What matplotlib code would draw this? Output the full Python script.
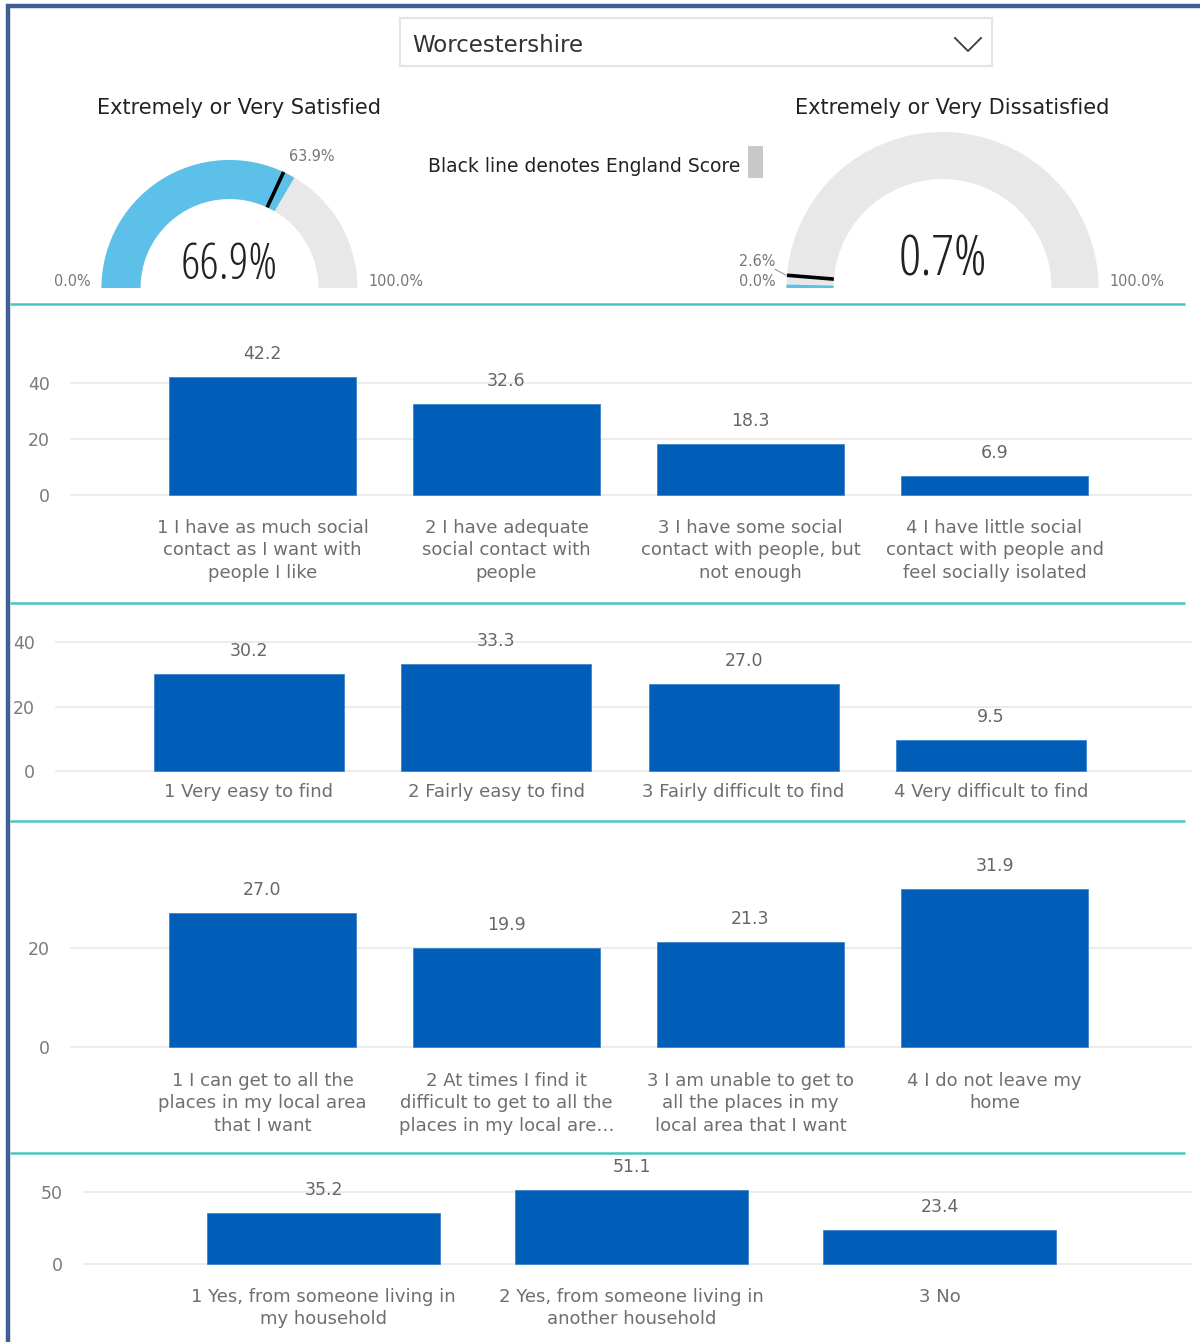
import matplotlib
matplotlib.use("Agg")
import matplotlib.pyplot as plt
from matplotlib.patches import Wedge, Rectangle
import numpy as np

# ---------------- data ----------------
area_name = "Worcestershire"
legend_text = "Black line denotes England Score"

gauge_titles = ["Extremely or Very Satisfied", "Extremely or Very Dissatisfied"]
gauge_values = [66.9, 0.7]
england_scores = [63.9, 2.6]
gauge_min = 0.0
gauge_max = 100.0

q1_labels = ["1 I have as much social\ncontact as I want with\npeople I like",
             "2 I have adequate\nsocial contact with\npeople",
             "3 I have some social\ncontact with people, but\nnot enough",
             "4 I have little social\ncontact with people and\nfeel socially isolated"]
q1_values = [42.2, 32.6, 18.3, 6.9]
q1_ticks = [0, 20, 40]

q2_labels = ["1 Very easy to find", "2 Fairly easy to find",
             "3 Fairly difficult to find", "4 Very difficult to find"]
q2_values = [30.2, 33.3, 27.0, 9.5]
q2_ticks = [0, 20, 40]

q3_labels = ["1 I can get to all the\nplaces in my local area\nthat I want",
             "2 At times I find it\ndifficult to get to all the\nplaces in my local are\u2026",
             "3 I am unable to get to\nall the places in my\nlocal area that I want",
             "4 I do not leave my\nhome"]
q3_values = [27.0, 19.9, 21.3, 31.9]
q3_ticks = [0, 20]

q4_labels = ["1 Yes, from someone living in\nmy household",
             "2 Yes, from someone living in\nanother household",
             "3 No"]
q4_values = [35.2, 51.1, 23.4]
q4_ticks = [0, 50]

# ---------------- style ----------------
BAR = "#005EB8"
GAUGE_BLUE = "#5DC0E8"
GAUGE_GREY = "#E8E8E8"
GRID = "#EBEBEB"
TEAL = "#46C6BE"
FRAME = "#3D5F91"
TICK_C = "#7A7A7A"
LAB_C = "#6E6E6E"
VAL_C = "#666666"
FONT = ["DejaVu Sans"]
BIG = dict(family=["Open Sans", "DejaVu Sans"], fontstretch="condensed", fontweight="light")
SMALL = dict(family=["DejaVu Sans"], fontstretch="condensed")

W, H = 1200, 1342
fig = plt.figure(figsize=(W / 100, H / 100), dpi=100)
fig.patch.set_facecolor("white")

bg = fig.add_axes([0, 0, 1, 1], zorder=0)
bg.set_xlim(0, W)
bg.set_ylim(0, H)
bg.axis("off")


def Y(y):
    return H - y


# frame
bg.plot([8, 8], [Y(4), Y(H + 5)], color=FRAME, lw=3.2, solid_capstyle="butt")
bg.plot([6, W], [Y(6), Y(6)], color=FRAME, lw=3.2, solid_capstyle="butt")

# separators
for sy in [304, 603, 821, 1153]:
    bg.plot([10, 1185], [Y(sy), Y(sy)], color=TEAL, lw=1.8, solid_capstyle="butt")

# dropdown
bg.add_patch(Rectangle((400, Y(66)), 592, 48, facecolor="white", edgecolor="#E4E4E4", lw=1.5))
bg.text(412, Y(45), area_name, fontsize=16.5, family=FONT, color="#333333", ha="left", va="center")
bg.plot([955, 968, 981], [Y(38), Y(51), Y(38)], color="#444444", lw=1.4)

# legend
bg.text(428, Y(167), legend_text, fontsize=13.5, family=FONT, color="#222222", ha="left", va="center")
bg.add_patch(Rectangle((748, Y(178)), 15, 32, facecolor="#C8C8C8", edgecolor="none"))

# gauges
gauge_geom = [  # cx, cy(baseline), R, r, title_x, value_y, value_fs, label_dy
    (229.5, 288, 128, 89, 239, 266, 35, -3),
    (942.5, 288, 156, 109, 952, 261, 40, 5),
]
for (cx, cy, R, r, tx, vy, vfs, ldy), title, val, eng in zip(gauge_geom, gauge_titles, gauge_values, england_scores):
    band = R - r
    c = (cx, Y(cy))
    bg.add_patch(Wedge(c, R, 0, 180, width=band, facecolor=GAUGE_GREY, edgecolor="none"))
    a = 180 - 180 * (val - gauge_min) / (gauge_max - gauge_min)
    bg.add_patch(Wedge(c, R, a, 180, width=band, facecolor=GAUGE_BLUE, edgecolor="none"))
    e = np.deg2rad(180 - 180 * (eng - gauge_min) / (gauge_max - gauge_min))
    bg.plot([cx + r * np.cos(e), cx + R * np.cos(e)], [Y(cy) + r * np.sin(e), Y(cy) + R * np.sin(e)],
            color="black", lw=2.6, solid_capstyle="butt", zorder=5)
    # england label (leader line when label sits on the left)
    lx, ly = cx + (R + 12) * np.cos(e), Y(cy) + (R + 12) * np.sin(e) + ldy
    if np.cos(e) < 0:
        bg.plot([cx + (R + 1) * np.cos(e), lx], [Y(cy) + (R + 1) * np.sin(e), ly], color="#999999", lw=0.8)
    bg.text(lx, ly, f"{eng:.1f}%", fontsize=11.5, color="#777777",
            ha="left" if np.cos(e) > 0 else "right", va="bottom", **SMALL)
    # min / max
    bg.text(cx - R - 11, Y(cy + 1), f"{gauge_min:.1f}%", fontsize=11.5, color="#777777",
            ha="right", va="bottom", **SMALL)
    bg.text(cx + R + 11, Y(cy + 1), f"{gauge_max:.1f}%", fontsize=11.5, color="#777777",
            ha="left", va="bottom", **SMALL)
    # value and title
    bg.text(cx, Y(vy), f"{val:.1f}%", fontsize=vfs, color="#222222", ha="center", va="center", **BIG)
    bg.text(tx, Y(108), title, fontsize=15, family=FONT, color="#222222", ha="center", va="center")


def bar_panel(labels, values, ticks, gx0, gx1, ytop, yzero, ppu, c0, sp, bw, xpad):
    extra = 3
    ax = fig.add_axes([gx0 / W, 1 - (yzero + extra) / H, (gx1 - gx0) / W, (yzero + extra - ytop) / H], zorder=2)
    ax.set_facecolor("none")
    x = np.arange(len(values))
    ax.bar(x, values, width=bw, color=BAR, edgecolor="#3F86CC", linewidth=0.6, zorder=3)
    ax.set_xlim((gx0 - c0) / sp, (gx1 - c0) / sp)
    ax.set_ylim(-extra / ppu, (yzero - ytop) / ppu)
    ax.set_yticks(ticks)
    ax.set_yticklabels([str(t) for t in ticks], family=FONT)
    ax.grid(axis="y", color=GRID, lw=1.3, zorder=0)
    ax.set_axisbelow(True)
    ax.set_xticks(x)
    ax.set_xticklabels(labels, family=FONT, fontsize=13, color=LAB_C, linespacing=1.33, va="top")
    ax.tick_params(axis="x", length=0, pad=xpad)
    ax.tick_params(axis="y", length=0, pad=14.5, labelsize=12.5, labelcolor=TICK_C)
    for s in ax.spines.values():
        s.set_visible(False)
    for xi, v in zip(x, values):
        ax.annotate(f"{v:.1f}", (xi, v), xytext=(0, 23), textcoords="offset pixels",
                    ha="center", va="center", fontsize=12.5, family=FONT, color=VAL_C)
    return ax


bar_panel(q1_labels, q1_values, q1_ticks, 70, 1192, 330, 495, 2.8, 262.5, 244, 0.766, 15.0)
bar_panel(q2_labels, q2_values, q2_ticks, 55, 1192, 615, 771, 3.225, 249, 247.3, 0.768, 6.5)
bar_panel(q3_labels, q3_values, q3_ticks, 70, 1192, 840, 1047, 4.95, 262.5, 244, 0.766, 15.5)
bar_panel(q4_labels, q4_values, q4_ticks, 83, 1192, 1160, 1264, 1.44, 323.5, 308, 0.756, 15.0)

fig.savefig("out.png", dpi=100, facecolor="white")
